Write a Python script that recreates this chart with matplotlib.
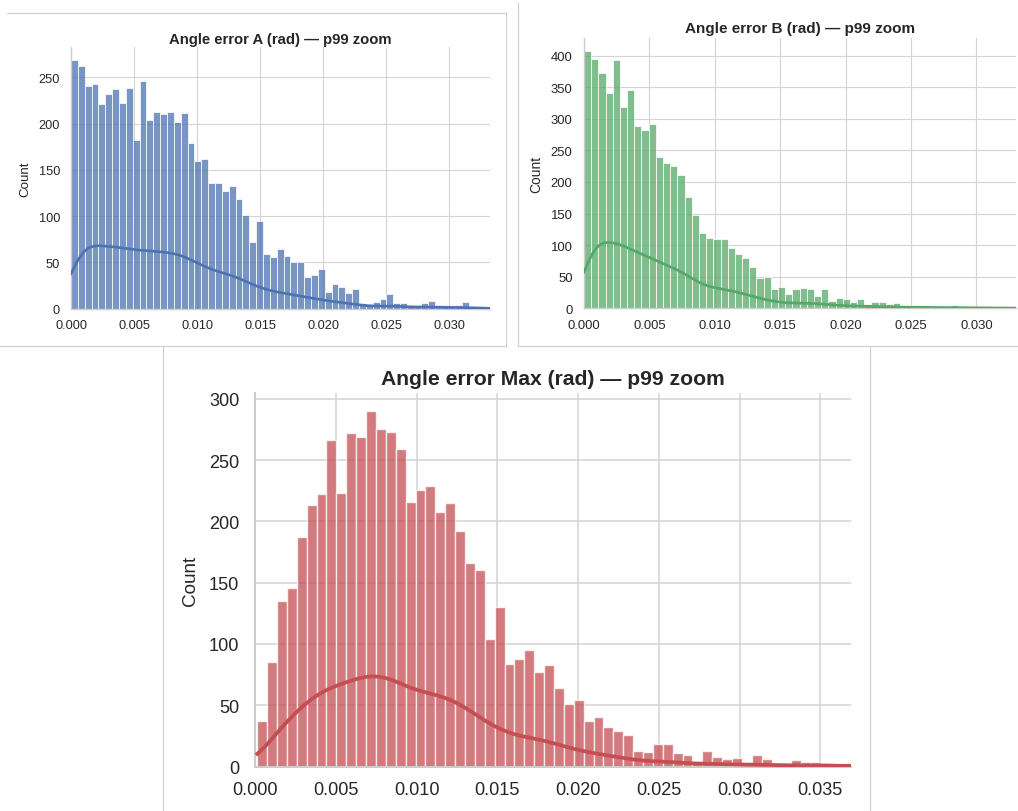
import matplotlib.pyplot as plt
import numpy as np
from matplotlib.lines import Line2D

plt.rcParams['font.family'] = ['Liberation Sans', 'DejaVu Sans']

# bin counts of the clipped (<= p99) angle errors, one list per channel
counts_a = [269, 262, 241, 243, 221, 232, 237, 222, 238, 182, 246, 204, 213,
            210, 213, 202, 211, 179, 160, 162, 136, 136, 127, 133, 118, 101,
            72, 95, 59, 56, 64, 57, 50, 50, 34, 36, 43, 18, 27, 23, 17, 21,
            6, 5, 7, 10, 16, 6, 6, 4, 4, 6, 8, 4, 4, 2, 4, 7, 2, 1, 1]
counts_b = [407, 395, 373, 341, 393, 319, 345, 288, 282, 292, 240, 230, 225,
            211, 176, 147, 119, 111, 109, 109, 96, 86, 80, 66, 48, 49, 30,
            34, 22, 30, 32, 31, 19, 31, 12, 16, 14, 10, 15,
            7, 10, 10, 7, 8, 4, 5, 6, 5, 3, 4, 3, 5, 3, 2, 3, 2, 2, 2, 2, 2]
counts_max = [37, 85, 135, 146, 187, 213, 222, 266, 223, 272, 269, 290, 275,
              273, 259, 216, 226, 229, 208, 215, 192, 166, 160, 104, 130, 84,
              88, 95, 77, 83, 64, 51, 54, 37, 40, 32, 29, 26, 13, 12, 18, 18,
              11, 9, 3, 13, 8, 6, 7, 2, 9, 6, 2, 2, 5, 4, 4, 3, 2, 3]

# bin range (rad) and p99 cut used as the x limit
range_a = (0.0, 0.0332)
range_b = (0.0, 0.03296)
range_max = (0.00014, 0.03688)
p99_a = 0.03325
p99_b = 0.0330
p99_max = 0.03688

names = ['A', 'B', 'Max']
colors = ['#4C72B0', '#55A868', '#C44E52']
ytick_sets = [np.arange(0, 251, 50), np.arange(0, 401, 50), np.arange(0, 301, 50)]
# share of the histogram area carried by the kde overlay
kde_frac = [0.29, 0.29, 0.27]

TEXT = '#262626'


def kde_curve(counts, edges, frac):
    centers = (edges[:-1] + edges[1:]) / 2
    w = np.asarray(counts, float)
    n = w.sum()
    mean = np.sum(w * centers) / n
    std = np.sqrt(np.sum(w * (centers - mean) ** 2) / n)
    bw = std * n ** (-1 / 5)
    xs = np.linspace(edges[0], edges[-1], 300)
    z = (xs[:, None] - centers[None, :]) / bw
    dens = (w[None, :] * np.exp(-0.5 * z ** 2)).sum(1) / (n * bw * np.sqrt(2 * np.pi))
    binw = edges[1] - edges[0]
    return xs, dens * n * binw * frac


def draw_panel(ax, counts, brange, xmax, name, color, yticks, frac, s, title_pad):
    edges = np.linspace(brange[0], brange[1], len(counts) + 1)
    ax.bar(edges[:-1], counts, width=np.diff(edges), align='edge',
           color=color, alpha=0.75, edgecolor='white', linewidth=0.7 * s, zorder=2)
    xs, ys = kde_curve(counts, edges, frac)
    ax.plot(xs, ys, color=color, linewidth=1.9 * s, zorder=3)

    ax.set_xlim(0, xmax)
    ax.set_ylim(0, max(counts) * 1.05)
    ticks = np.arange(0, xmax, 0.005)
    ax.set_xticks(ticks)
    ax.set_xticklabels([f'{t:.3f}' for t in ticks])
    ax.set_yticks(yticks)
    ax.tick_params(axis='x', length=0, pad=7.5 * s, labelsize=9.2 * s, colors=TEXT)
    ax.tick_params(axis='y', length=0, pad=8 * s, labelsize=9.2 * s, colors=TEXT)
    ax.set_ylabel('Count', fontsize=9.6 * s, color=TEXT, labelpad=5 * s)
    ax.set_title(f'Angle error {name} (rad) — p99 zoom', fontsize=10.7 * s,
                 fontweight='bold', color=TEXT, pad=title_pad)
    ax.set_axisbelow(True)
    ax.grid(True, color='#d4d4d4', linewidth=0.8 * s)
    for side in ['top', 'right']:
        ax.spines[side].set_visible(False)
    for side in ['left', 'bottom']:
        ax.spines[side].set_color('#cccccc')
        ax.spines[side].set_linewidth(1.0 * s)


W, H = 1018, 812
fig = plt.figure(figsize=(W / 100, H / 100), dpi=100)
fig.patch.set_facecolor('white')


def px_axes(x0, y0, x1, y1):
    return fig.add_axes([x0 / W, 1 - y1 / H, (x1 - x0) / W, (y1 - y0) / H])


ax_a = px_axes(71, 48.3, 490, 309.5)
ax_b = px_axes(584, 39.3, 1015.7, 309.3)
ax_c = px_axes(255, 394.3, 850.7, 767.5)

draw_panel(ax_a, counts_a, range_a, p99_a, names[0], colors[0], ytick_sets[0], kde_frac[0], 1.0, 3.0)
draw_panel(ax_b, counts_b, range_b, p99_b, names[1], colors[1], ytick_sets[1], kde_frac[1], 1.03, 4.5)
draw_panel(ax_c, counts_max, range_max, p99_max, names[2], colors[2], ytick_sets[2], kde_frac[2], 1.42, 6.8)


# thin frames around the three panels
def frame_line(x0, y0, x1, y1):
    fig.add_artist(Line2D([x0 / W, x1 / W], [1 - y0 / H, 1 - y1 / H],
                          transform=fig.transFigure, color='#cfcfcf', linewidth=0.8))


frame_line(7, 14, 506, 14)
frame_line(506, 14, 506, 347)
frame_line(0, 347, 506, 347)
frame_line(518, 4, 518, 347)
frame_line(518, 347, 1018, 347)
frame_line(163, 347, 163, 812)
frame_line(870, 347, 870, 812)

fig.savefig('out.png', dpi=100)
